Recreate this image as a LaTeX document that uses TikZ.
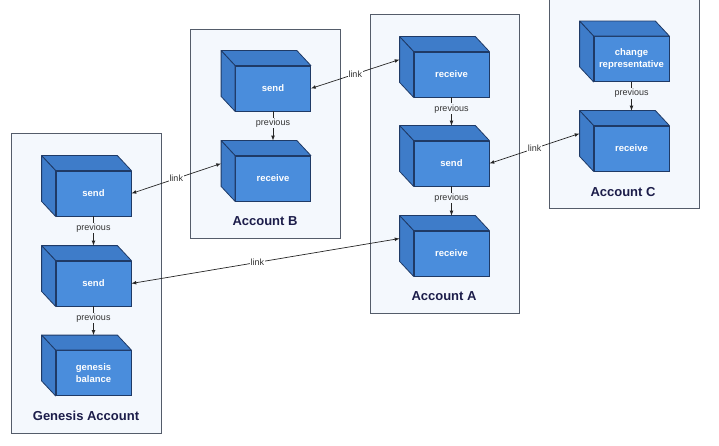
\documentclass[tikz,border=0pt]{standalone}
\usepackage{fontspec}
\setmainfont{Liberation Sans}
\usepackage{tikz}
\usetikzlibrary{calc}
\definecolor{blockfront}{HTML}{4A8DDC}
\definecolor{blockside}{HTML}{3E7CC9}
\definecolor{blockline}{HTML}{1F3A66}
\definecolor{accfill}{HTML}{F4F8FD}
\definecolor{accline}{HTML}{545C6A}
\definecolor{acctext}{HTML}{1C1D4A}

\begin{document}
\begin{tikzpicture}[x=1pt,y=-1pt,
	block/.style={draw=blockline,line width=0.8pt,fill=blockfront,minimum width=75pt,minimum height=45pt,inner sep=1pt,align=center,text=white,font=\fontsize{9.5}{11.5}\selectfont\bfseries},
	face/.style={draw=blockline,line width=0.8pt,fill=blockside,line join=round},
	account/.style={draw=accline,line width=0.8pt,fill=accfill},
	acclabel/.style={text=acctext,font=\fontsize{13}{15}\selectfont\bfseries},
	prev/.style={draw=black!85,line width=0.7pt,->,>=latex},
	link/.style={draw=black!85,line width=0.7pt,<->,>=latex},
	lbl/.style={fill=white,inner sep=1pt,text=black!80,font=\fontsize{9}{10}\selectfont}]
			\useasboundingbox (0,0) rectangle (719,446);
			% accounts
			\draw[account] (11,133) rectangle (161,433);
			\draw[account] (190,29) rectangle (340,238);
			\draw[account] (370,14) rectangle (519,313);
			\draw[account] (549,-1) rectangle (699,208);
			\node[acclabel] (labG) at (86,416) {Genesis Account};
			\node[acclabel] (labB) at (265,221) {Account B};
			\node[acclabel] (labA) at (444,296) {Account A};
			\node[acclabel] (labC) at (623,192) {Account C};
			
			% blocks (front faces)
			\node[block] (g1) at (93.5,193.5) {send};
			\node[block] (g2) at (93.5,283.5) {send};
			\node[block] (g3) at (93.5,373) {genesis\\balance};
			\node[block] (b1) at (273,88.5) {send};
			\node[block] (b2) at (273,178.5) {receive};
			\node[block] (a1) at (451.5,74.5) {receive};
			\node[block] (a2) at (451.5,163.5) {send};
			\node[block] (a3) at (451.5,253.5) {receive};
			\node[block] (c1) at (631.5,59) {change\\representative};
			\node[block] (c2) at (631.5,148.5) {receive};
			\foreach \b in {g1,g2,g3,b1,b2,a1,a2,a3,c1,c2} {
			  \draw[face] (\b.north west) -- ++(-14,-15) -- ($(\b.north east)+(-14,-15)$) -- (\b.north east) -- cycle;
			  \draw[face] (\b.north west) -- ++(-14,-15) -- ($(\b.south west)+(-14,-15)$) -- (\b.south west) -- cycle;
			  \coordinate (\b-back) at ($(\b.west)+(-14,-15)$);
			  \coordinate (\b-top) at ($(\b.north)+(0,-15)$);
			}
			
			% previous
			\draw[prev] (g1.south) -- node[lbl,fill=accfill,pos=0.4] {previous} (g2-top);
			\draw[prev] (g2.south) -- node[lbl,fill=accfill,pos=0.4] {previous} (g3-top);
			\draw[prev] (b1.south) -- node[lbl,fill=accfill,pos=0.4] {previous} (b2-top);
			\draw[prev] (a1.south) -- node[lbl,fill=accfill,pos=0.4] {previous} (a2-top);
			\draw[prev] (a2.south) -- node[lbl,fill=accfill,pos=0.4] {previous} (a3-top);
			\draw[prev] (c1.south) -- node[lbl,fill=accfill,pos=0.4] {previous} (c2-top);
			
			% links
			\draw[link] (g1.east) -- node[lbl] {link} (b2-back);
			\draw[link] (b1.east) -- node[lbl] {link} (a1-back);
			\draw[link] (a2.east) -- node[lbl] {link} (c2-back);
			\draw[link] (g2.east) -- node[lbl,pos=0.47] {link} (a3-back);
			\end{tikzpicture}
\end{document}
